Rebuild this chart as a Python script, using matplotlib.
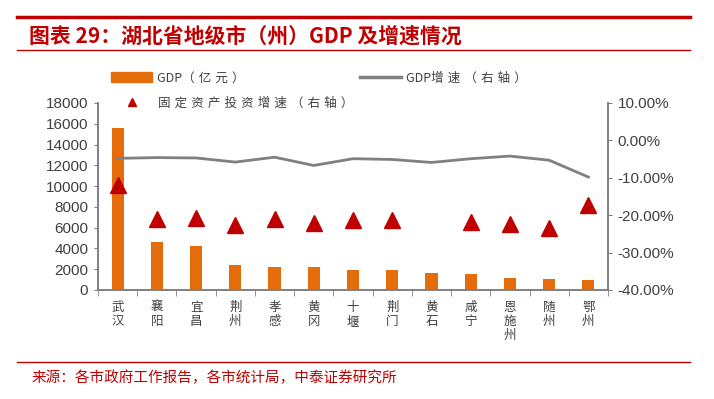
import matplotlib.pyplot as plt
from matplotlib.lines import Line2D
from matplotlib.patches import Patch
import numpy as np

plt.rcParams['font.family'] = ['Noto Sans CJK SC', 'DejaVu Sans']

cities = ['武汉', '襄阳', '宜昌', '荆州', '孝感', '黄冈', '十堰', '荆门', '黄石', '咸宁', '恩施州', '随州', '鄂州']
gdp = [15616, 4602, 4261, 2369, 2193, 2170, 1915, 1906, 1641, 1524, 1117, 1036, 1005]
gdp_growth = [-4.8, -4.6, -4.7, -5.8, -4.5, -6.7, -4.9, -5.1, -5.9, -4.9, -4.2, -5.3, -9.8]
fai_growth = [-11.8, -20.9, -20.7, -22.5, -21.0, -22.1, -21.3, -21.4, np.nan, -21.8, -22.3, -23.5, -17.3]

dark_red = '#C00000'
orange = '#E46C0A'
grey = '#808080'
text_c = '#404040'


def spaced(s):
    # the original legend has wide letter spacing
    return '\u2004'.join(s)


fig = plt.figure(figsize=(7.14, 3.99), dpi=100)
ax = fig.add_axes([0.1373, 0.2732, 0.7142, 0.4687])
ax2 = ax.twinx()

x = np.arange(len(cities))
ax.bar(x, gdp, width=0.31, color=orange, zorder=2)
ax2.plot(x, gdp_growth, color=grey, lw=2, zorder=3)
ax2.plot(x, fai_growth, ls='none', marker='^', ms=11, color=dark_red, zorder=4)

ax.set_xlim(-0.5, len(cities) - 0.5)
ax.set_ylim(0, 18000)
ax.set_yticks(range(0, 18001, 2000))
ax2.set_ylim(-40, 10)
ax2.set_yticks(range(-40, 11, 10))
ax2.set_yticklabels([f'{v:.2f}%' for v in range(-40, 11, 10)])

ax.set_xticks(x)
ax.set_xticklabels(['\n'.join(c) for c in cities], va='top', linespacing=1.1)
ax.set_xticks(np.arange(-0.5, len(cities), 1), minor=True)
ax.tick_params(axis='x', which='major', length=0, pad=8, labelsize=9, labelcolor=text_c)
ax.tick_params(axis='x', which='minor', length=4, color=grey, direction='out')
ax.tick_params(axis='y', length=3, color=grey, labelsize=11, labelcolor=text_c, pad=4)
ax2.tick_params(axis='y', length=3, color=grey, labelsize=11, labelcolor=text_c, pad=4)
for t in ax.get_yticklabels() + ax2.get_yticklabels():
    t.set_family(['Liberation Sans', 'DejaVu Sans'])

for a in (ax, ax2):
    a.spines['top'].set_visible(False)
    for s in ('left', 'right', 'bottom'):
        a.spines[s].set_color(grey)
        a.spines[s].set_linewidth(1.2)

handles = [Patch(color=orange), Line2D([], [], color=grey, lw=2.5)]
labels = ['GDP' + spaced('（亿元）'), 'GDP' + spaced('增速（右轴）')]
fig.legend(handles, labels, loc='center left', bbox_to_anchor=(0.140, 0.805),
           ncol=2, frameon=False, fontsize=9, handlelength=3.3, handleheight=0.8, columnspacing=9.2,
           handletextpad=0.4, labelcolor=text_c)
fig.legend([Line2D([], [], ls='none', marker='^', ms=6, color=dark_red)], [spaced('固定资产投资增速（右轴）')],
           loc='center left', bbox_to_anchor=(0.156, 0.742), frameon=False, fontsize=9,
           handlelength=1.5, handletextpad=1.3, labelcolor=text_c)

# header and footer
fig.add_artist(Line2D([0.024, 0.966], [1 - 17 / 399] * 2, color=dark_red, lw=2.5))
fig.add_artist(Line2D([0.024, 0.966], [1 - 50 / 399] * 2, color=dark_red, lw=1))
fig.add_artist(Line2D([0.024, 0.966], [1 - 362 / 399] * 2, color=dark_red, lw=1))
fig.text(0.04, 1 - 36 / 399, '图表 29：湖北省地级市（州）GDP 及增速情况', color=dark_red,
         fontsize=15, fontweight='bold', style='italic', va='center', ha='left')
fig.text(0.044, 1 - 378 / 399, '来源：各市政府工作报告，各市统计局，中泰证券研究所', color=dark_red,
         fontsize=10.5, va='center', ha='left')

fig.savefig('out.png', dpi=100)
